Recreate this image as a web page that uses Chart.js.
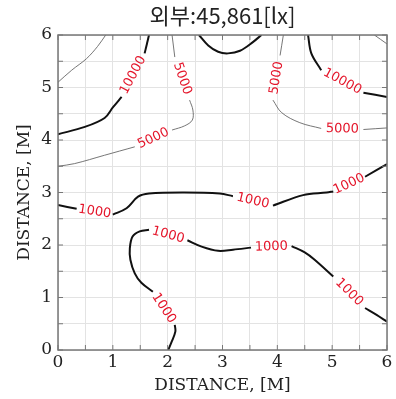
<!DOCTYPE html>
<html>
<head>
<meta charset="utf-8">
<script src="https://cdn.jsdelivr.net/npm/chart.js@4.4.1/dist/chart.umd.min.js"></script>
<style>
  html, body { margin: 0; padding: 0; background: #fff; }
  #wrap { width: 396px; height: 399px; }
</style>
</head>
<body>
<div id="wrap"><canvas id="chart"></canvas></div>
<script>
// contour lines, [x, y] in metres; each contour is a list of pieces,
// the label sits in the gap between two pieces
var level1000Mid = [
  [[0, 2.76], [0.34, 2.69]],
  [[1.0, 2.58], [1.25, 2.70], [1.46, 2.92], [1.66, 2.98], [2.3, 3.0], [2.95, 2.98], [3.19, 2.93]],
  [[3.92, 2.75], [4.47, 2.95], [4.9, 3.0], [5.02, 3.02]],
  [[5.6, 3.3], [6.0, 3.54]]
];
var level1000Low = [
  [[2.01, 0], [2.07, 0.15], [2.14, 0.35], [2.13, 0.48]],
  [[1.73, 1.11], [1.52, 1.28], [1.4, 1.46], [1.32, 1.72], [1.31, 1.94], [1.36, 2.16], [1.49, 2.26], [1.66, 2.29]],
  [[2.36, 2.09], [2.62, 1.97], [2.92, 1.89], [3.19, 1.91], [3.52, 1.95]],
  [[4.26, 1.98], [4.5, 1.86], [4.68, 1.72], [5.02, 1.4]],
  [[5.6, 0.8], [5.81, 0.67], [6.0, 0.54]]
];
var level10000Left = [
  [[0, 4.11], [0.49, 4.25], [0.85, 4.42], [1.0, 4.62], [1.16, 4.82]],
  [[1.58, 5.65], [1.66, 6.0]]
];
var level10000Right = [
  [[4.56, 6.0], [4.62, 5.65], [4.8, 5.33]],
  [[5.57, 4.9], [6.0, 4.82]]
];
var level5000Left = [
  [[2.08, 6.0], [2.13, 5.58]],
  [[2.4, 4.76], [2.46, 4.57], [2.45, 4.38], [2.31, 4.27], [2.08, 4.19]],
  [[1.4, 3.87], [0.85, 3.71], [0.3, 3.55], [0, 3.5]]
];
var level5000Right = [
  [[4.11, 6.0], [4.05, 5.61]],
  [[3.92, 4.76], [4.08, 4.52], [4.41, 4.33], [4.8, 4.22]],
  [[5.57, 4.2], [6.0, 4.23]]
];
var cornerLeft = [[[0, 5.1], [0.25, 5.33], [0.52, 5.55], [0.72, 5.78], [0.87, 6.0]]];
var cornerRight = [[[5.77, 6.0], [6.0, 5.83]]];
var topCentre = [[[2.57, 6.0], [2.74, 5.8], [2.92, 5.68], [3.1, 5.65], [3.32, 5.7], [3.56, 5.87], [3.71, 6.0]]];

var axisTicks = [0, 1, 2, 3, 4, 5, 6];
var chartTitle = '외부:45,861[lx]';
var axisTitle = 'DISTANCE, [M]';

var contours = [
  {pieces: level1000Mid, label: '1000', thick: true},
  {pieces: level1000Low, label: '1000', thick: true},
  {pieces: level10000Left, label: '10000', thick: true},
  {pieces: level10000Right, label: '10000', thick: true},
  {pieces: level5000Left, label: '5000', thick: false},
  {pieces: level5000Right, label: '5000', thick: false},
  {pieces: cornerLeft, label: '', thick: false},
  {pieces: cornerRight, label: '', thick: false},
  {pieces: topCentre, label: '', thick: true}
];

var datasets = [];
contours.forEach(function(c) {
  c.pieces.forEach(function(p) {
    datasets.push({
      data: p.map(function(pt) { return {x: pt[0], y: pt[1]}; }),
      showLine: true,
      borderColor: c.thick ? '#111' : '#666',
      borderWidth: c.thick ? 2 : 0.9,
      pointRadius: 0,
      tension: 0.35
    });
  });
});

var serif = "'DejaVu Serif', 'Liberation Serif', serif";

// red labels in the gaps of the contour lines
var contourLabels = {
  id: 'contourLabels',
  afterDatasetsDraw: function(chart) {
    var ctx = chart.ctx, xs = chart.scales.x, ys = chart.scales.y;
    ctx.save();
    ctx.fillStyle = '#e4162b';
    ctx.font = "13px 'DejaVu Sans', sans-serif";
    ctx.textAlign = 'center';
    ctx.textBaseline = 'middle';
    contours.forEach(function(c) {
      if (!c.label) return;
      for (var i = 0; i < c.pieces.length - 1; i++) {
        var a = c.pieces[i][c.pieces[i].length - 1];
        var b = c.pieces[i + 1][0];
        var ax = xs.getPixelForValue(a[0]), ay = ys.getPixelForValue(a[1]);
        var bx = xs.getPixelForValue(b[0]), by = ys.getPixelForValue(b[1]);
        var ang = Math.atan2(by - ay, bx - ax);
        if (ang > Math.PI / 2) ang -= Math.PI;
        if (ang < -Math.PI / 2) ang += Math.PI;
        ctx.save();
        ctx.translate((ax + bx) / 2, (ay + by) / 2);
        ctx.rotate(ang);
        ctx.fillText(c.label, 0, 0);
        ctx.restore();
      }
    });
    ctx.restore();
  }
};

// box round the plot with inward ticks every 0.5, and the title over the plot
var frame = {
  id: 'frame',
  afterDraw: function(chart) {
    var ctx = chart.ctx, a = chart.chartArea, xs = chart.scales.x, ys = chart.scales.y;
    ctx.save();
    ctx.strokeStyle = '#777';
    ctx.lineWidth = 1.5;
    ctx.strokeRect(a.left, a.top, a.right - a.left, a.bottom - a.top);
    ctx.lineWidth = 1;
    ctx.beginPath();
    for (var v = 0; v <= 6; v += 0.5) {
      var px = xs.getPixelForValue(v), py = ys.getPixelForValue(v);
      ctx.moveTo(px, a.bottom); ctx.lineTo(px, a.bottom - 5);
      ctx.moveTo(px, a.top); ctx.lineTo(px, a.top + 5);
      ctx.moveTo(a.left, py); ctx.lineTo(a.left + 5, py);
      ctx.moveTo(a.right, py); ctx.lineTo(a.right - 5, py);
    }
    ctx.stroke();
    ctx.fillStyle = '#222';
    ctx.font = "22px 'Noto Sans CJK KR', 'Noto Sans', sans-serif";
    ctx.textAlign = 'center';
    ctx.textBaseline = 'middle';
    ctx.fillText(chartTitle, (a.left + a.right) / 2, 16);
    ctx.restore();
  }
};

function tickText(v) {
  return axisTicks.indexOf(v) >= 0 ? String(v) : '';
}

new Chart(document.getElementById('chart'), {
  type: 'scatter',
  data: {datasets: datasets},
  options: {
    responsive: true,
    maintainAspectRatio: false,
    animation: false,
    layout: {padding: {left: 0, right: 9, top: 35, bottom: 0}},
    plugins: {
      legend: {display: false},
      tooltip: {enabled: false}
    },
    scales: {
      x: {
        type: 'linear', min: 0, max: 6,
        afterFit: function(s) { s.height = 49; },
        ticks: {stepSize: 0.5, autoSkip: false, maxRotation: 0, padding: 2, color: '#222',
                font: {family: serif, size: 17}, callback: tickText},
        grid: {color: '#e3e3e3', lineWidth: 1, drawTicks: false},
        border: {display: false},
        title: {display: true, text: axisTitle, color: '#222', font: {family: serif, size: 17},
                padding: {top: 0, bottom: 3}}
      },
      y: {
        type: 'linear', min: 0, max: 6,
        afterFit: function(s) { s.width = 58; },
        ticks: {stepSize: 0.5, autoSkip: false, padding: 6, color: '#222',
                font: {family: serif, size: 17}, callback: tickText},
        grid: {color: '#e3e3e3', lineWidth: 1, drawTicks: false},
        border: {display: false},
        title: {display: true, text: axisTitle, color: '#222', font: {family: serif, size: 17},
                padding: {top: 14, bottom: 0}}
      }
    }
  },
  plugins: [contourLabels, frame]
});
</script>
</body>
</html>
